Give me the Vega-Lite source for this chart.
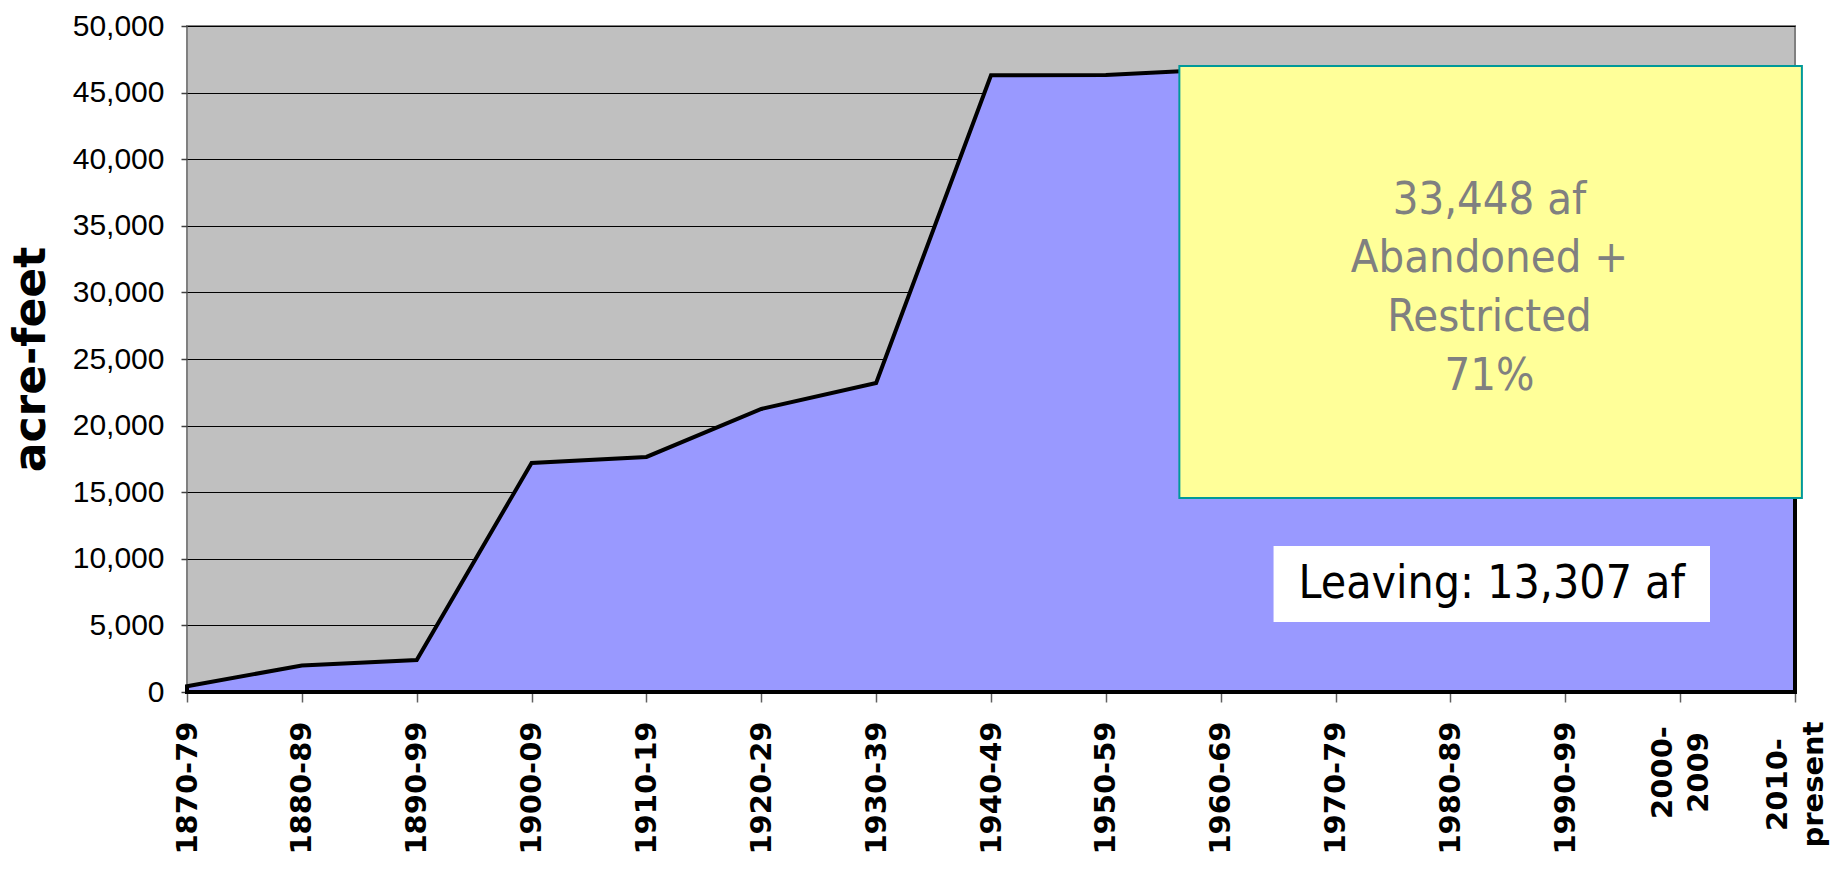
{
  "$schema": "https://vega.github.io/schema/vega-lite/v6.json",
  "width": 1608,
  "height": 666,
  "autosize": {"type": "none"},
  "padding": {"left": 187, "top": 26, "right": 46, "bottom": 196},
  "background": "white",
  "config": {"view": {"fill": "#C0C0C0", "stroke": "#808080", "strokeWidth": 2}},
  "layer": [
    {
      "data": {
        "values": [
          {"decade": 1870, "acre_feet": 430},
          {"decade": 1880, "acre_feet": 1990},
          {"decade": 1890, "acre_feet": 2400},
          {"decade": 1900, "acre_feet": 17200},
          {"decade": 1910, "acre_feet": 17650},
          {"decade": 1920, "acre_feet": 21250},
          {"decade": 1930, "acre_feet": 23200},
          {"decade": 1940, "acre_feet": 46300},
          {"decade": 1950, "acre_feet": 46330},
          {"decade": 1960, "acre_feet": 46755},
          {"decade": 1970, "acre_feet": 46755},
          {"decade": 1980, "acre_feet": 46755},
          {"decade": 1990, "acre_feet": 46755},
          {"decade": 2000, "acre_feet": 46755},
          {"decade": 2010, "acre_feet": 46755}
        ]
      },
      "mark": {"type": "area", "fill": "#9999FF", "fillOpacity": 1, "stroke": "black", "strokeWidth": 4, "strokeJoin": "miter"},
      "encoding": {
        "x": {
          "field": "decade",
          "type": "quantitative",
          "scale": {"domain": [1870, 2010], "nice": false, "zero": false},
          "axis": {
            "title": null,
            "values": [1870, 1880, 1890, 1900, 1910, 1920, 1930, 1940, 1950, 1960, 1970, 1980, 1990, 2000, 2010],
            "labelExpr": "['1870-79','1880-89','1890-99','1900-09','1910-19','1920-29','1930-39','1940-49','1950-59','1960-69','1970-79','1980-89','1990-99',['2000-','2009'],['2010-','present']][round((datum.value-1870)/10)]",
            "labelAngle": 270,
            "labelFont": "DejaVu Sans",
            "labelFontWeight": "bold",
            "labelFontSize": 29,
            "labelLineHeight": 36,
            "labelColor": "black",
            "labelAlign": {"condition": {"test": "datum.value >= 2000", "value": "center"}, "value": "right"},
            "labelBaseline": "middle",
            "labelPadding": {"condition": [{"test": "datum.value == 2000", "value": 70}, {"test": "datum.value == 2010", "value": 82}], "value": 19},
            "labelOffset": {"condition": {"test": "datum.value >= 2000", "value": -18}, "value": 0},
            "labelOverlap": false,
            "labelBound": false,
            "labelFlush": false,
            "tickSize": 10,
            "tickColor": "#606060",
            "tickWidth": 1.5,
            "domain": false,
            "grid": false
          }
        },
        "y": {
          "field": "acre_feet",
          "type": "quantitative",
          "scale": {"domain": [0, 50000], "nice": false},
          "axis": {
            "title": "acre-feet",
            "values": [0, 5000, 10000, 15000, 20000, 25000, 30000, 35000, 40000, 45000, 50000],
            "format": ",d",
            "labelFont": "Liberation Sans",
            "labelFontSize": 30,
            "labelColor": "black",
            "labelPadding": 17,
            "tickSize": 6,
            "tickColor": "#404040",
            "tickWidth": 1.5,
            "domain": false,
            "grid": true,
            "gridColor": "black",
            "gridWidth": 1.2,
            "titleFont": "DejaVu Sans",
            "titleFontWeight": "bold",
            "titleFontSize": 44,
            "titleColor": "black",
            "titlePadding": 19
          }
        }
      }
    },
    {
      "data": {"values": [{}]},
      "mark": {"type": "rect", "fill": "#FFFF99", "stroke": "#009999", "strokeWidth": 2},
      "encoding": {
        "x": {"datum": 1956.4},
        "x2": {"datum": 2010.6},
        "y": {"datum": 46997},
        "y2": {"datum": 14565}
      }
    },
    {
      "data": {"values": [{}]},
      "mark": {"type": "text", "font": "DejaVu Sans Condensed, DejaVu Sans", "fontSize": 45, "color": "#808080", "lineHeight": 58.7, "align": "center", "baseline": "middle"},
      "encoding": {
        "x": {"datum": 1983.4},
        "y": {"datum": 36967},
        "text": {"value": ["33,448 af", "Abandoned +", "Restricted", "71%"]}
      }
    },
    {
      "data": {"values": [{}]},
      "mark": {"type": "rect", "fill": "white", "strokeWidth": 0},
      "encoding": {
        "x": {"datum": 1964.6},
        "x2": {"datum": 2002.6},
        "y": {"datum": 10961},
        "y2": {"datum": 5255}
      }
    },
    {
      "data": {"values": [{}]},
      "mark": {"type": "text", "font": "DejaVu Sans Condensed, DejaVu Sans", "fontSize": 46, "color": "black", "align": "center", "baseline": "middle"},
      "encoding": {
        "x": {"datum": 1983.6},
        "y": {"datum": 8108},
        "text": {"value": "Leaving: 13,307 af"}
      }
    }
  ]
}
